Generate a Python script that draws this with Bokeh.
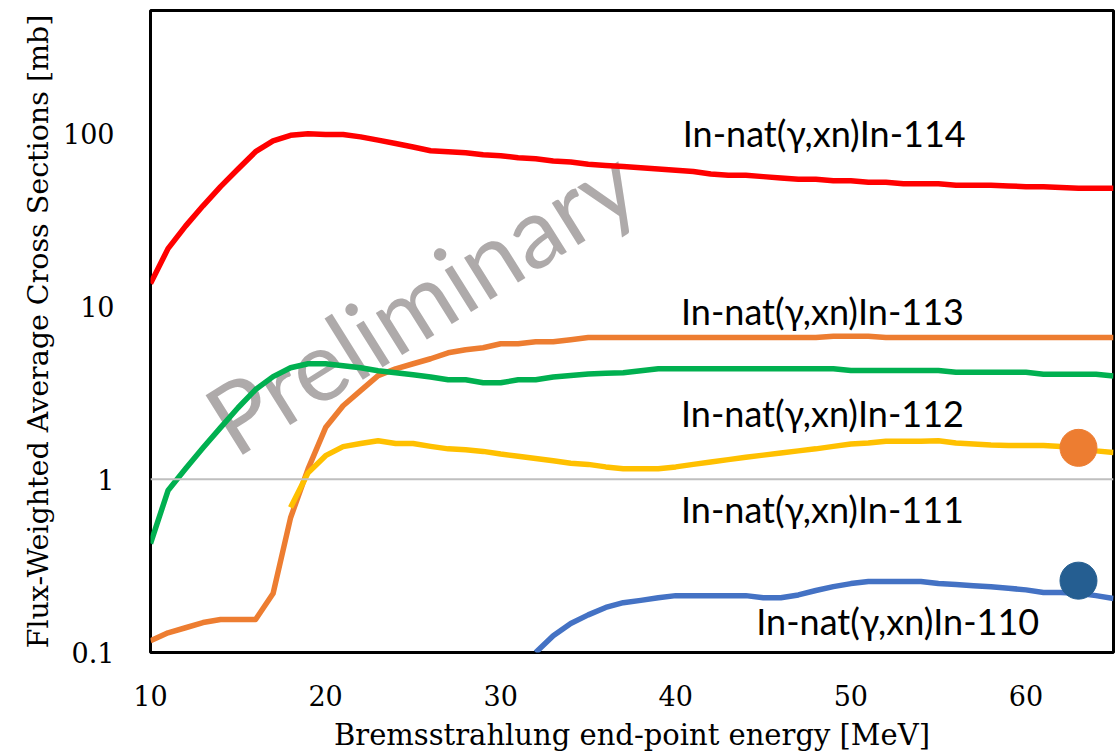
from bokeh.plotting import figure
from bokeh.models import Range1d, FixedTicker, Span
from bokeh.core.properties import value
from bokeh.embed import file_html
from bokeh.resources import INLINE

# ---------------- data ----------------
energy = list(range(10, 66))  # MeV

in114 = [13.5, 21.5, 29, 38, 49, 62, 78, 90, 97, 99,
         98, 98, 95, 91, 87, 83, 79, 78, 77, 75,
         74, 72, 71, 69, 68, 66, 65, 64, 63, 62,
         61, 60, 58, 57, 57, 56, 55, 54, 54, 53,
         53, 52, 52, 51, 51, 51, 50, 50, 50, 49.5,
         49, 49, 48.5, 48, 48, 48]

in113 = [0.117, 0.130, 0.139, 0.149, 0.155, 0.155, 0.155, 0.219, 0.60, 1.15,
         1.99, 2.66, 3.25, 3.97, 4.35, 4.65, 4.97, 5.38, 5.6, 5.75,
         6.07, 6.07, 6.23, 6.23, 6.4, 6.6, 6.6, 6.6, 6.6, 6.6,
         6.6, 6.6, 6.6, 6.6, 6.6, 6.6, 6.6, 6.6, 6.6, 6.7,
         6.7, 6.7, 6.6, 6.6, 6.6, 6.6, 6.6, 6.6, 6.6, 6.6,
         6.6, 6.6, 6.6, 6.6, 6.6, 6.6]

in112 = [0.426, 0.861, 1.15, 1.52, 1.99, 2.59, 3.3, 3.92, 4.41, 4.65,
         4.65, 4.53, 4.41, 4.24, 4.13, 4.02, 3.9, 3.76, 3.76, 3.61,
         3.61, 3.76, 3.76, 3.9, 3.98, 4.06, 4.1, 4.13, 4.24, 4.35,
         4.35, 4.35, 4.35, 4.35, 4.35, 4.35, 4.35, 4.35, 4.35, 4.35,
         4.25, 4.25, 4.25, 4.25, 4.25, 4.25, 4.15, 4.15, 4.15, 4.15,
         4.15, 4.05, 4.05, 4.05, 4.05, 3.95]

energy_111 = list(range(18, 66))
in111 = [0.687, 1.09, 1.37, 1.545, 1.61, 1.67, 1.61, 1.61, 1.55, 1.5,
         1.48, 1.45, 1.4, 1.36, 1.32, 1.28, 1.24, 1.22, 1.18, 1.15,
         1.15, 1.15, 1.18, 1.22, 1.26, 1.3, 1.34, 1.38, 1.42, 1.46,
         1.5, 1.55, 1.6, 1.62, 1.66, 1.66, 1.66, 1.67, 1.62, 1.6,
         1.58, 1.57, 1.57, 1.57, 1.55, 1.5, 1.46, 1.43]

energy_110 = list(range(32, 66))
in110 = [0.1, 0.125, 0.147, 0.165, 0.182, 0.194, 0.2, 0.207, 0.213, 0.213,
         0.213, 0.213, 0.213, 0.207, 0.207, 0.215, 0.228, 0.24, 0.25, 0.257,
         0.257, 0.257, 0.257, 0.25, 0.247, 0.243, 0.24, 0.235, 0.23, 0.222,
         0.222, 0.22, 0.213, 0.205]

point_energy = [63]
point_upper = [1.52]
point_lower = [0.26]

series_labels = ["In-nat(\u03b3,xn)In-114", "In-nat(\u03b3,xn)In-113",
                 "In-nat(\u03b3,xn)In-112", "In-nat(\u03b3,xn)In-111",
                 "In-nat(\u03b3,xn)In-110"]

x_ticks = [10, 20, 30, 40, 50, 60]
x_tick_labels = ["10", "20", "30", "40", "50", "60"]
y_ticks = [0.1, 1, 10, 100]
y_tick_labels = ["0.1", "1", "10", "100"]

x_title = "Bremsstrahlung end-point energy [MeV]"
y_title = "Flux-Weighted Average Cross Sections [mb]"
watermark = "Preliminary"

# ---------------- figure ----------------
p = figure(width=1115, height=755, x_range=Range1d(10, 65), y_range=Range1d(0.1, 510),
           y_axis_type="log", output_backend="svg", toolbar_location=None,
           min_border_left=150, min_border_right=2, min_border_top=10, min_border_bottom=103)
p.background_fill_color = "white"
p.border_fill_color = "white"
p.outline_line_color = "black"
p.outline_line_width = 3
p.xgrid.visible = False
p.ygrid.visible = False

serif = "DejaVu Serif"
for ax in (p.xaxis[0], p.yaxis[0]):
    ax.axis_line_color = None
    ax.major_tick_line_color = None
    ax.minor_tick_line_color = None
    ax.major_label_text_font = serif
    ax.major_label_text_font_size = "27px"
    ax.major_label_text_color = "black"
    ax.axis_label_text_font = serif
    ax.axis_label_text_font_style = "normal"
    ax.axis_label_text_color = "black"

p.xaxis.ticker = FixedTicker(ticks=x_ticks)
p.xaxis.major_label_overrides = {t: l for t, l in zip(x_ticks, x_tick_labels)}
p.xaxis.major_label_standoff = 26
p.xaxis.axis_label = x_title
p.xaxis.axis_label_text_font_size = "29px"
p.xaxis.axis_label_standoff = 9

p.yaxis.ticker = FixedTicker(ticks=y_ticks, minor_ticks=[])
p.yaxis.major_label_overrides = {t: l for t, l in zip(y_ticks, y_tick_labels)}
p.yaxis.major_label_standoff = 30
p.yaxis.axis_label = y_title
p.yaxis.axis_label_text_font_size = "28.5px"
p.yaxis.axis_label_standoff = 5

p.add_layout(Span(location=1, dimension="width", line_color="#BFBFBF", line_width=2))

# watermark (under the lines)
p.text(x=[25.4], y=[11.0], text=[watermark], angle=32, angle_units="deg",
       text_font=value("Lato"), text_font_size="98px", text_color="#AEAAAA",
       text_align="center", text_baseline="middle")

lw = 5.5
p.line(energy, in114, line_color="#FF0000", line_width=lw, line_join="round")
p.line(energy, in113, line_color="#ED7D31", line_width=lw, line_join="round")
p.line(energy, in112, line_color="#00B050", line_width=lw, line_join="round")
p.line(energy_111, in111, line_color="#FFC000", line_width=lw, line_join="round")
p.line(energy_110, in110, line_color="#4472C4", line_width=lw, line_join="round")

p.scatter(point_energy, point_upper, size=37, color="#ED7D31")
p.scatter(point_energy, point_lower, size=37, color="#255E91")

label_x = [40.4, 40.3, 40.3, 40.3, 44.6]
label_y = [100, 9.4, 2.43, 0.678, 0.153]
p.text(x=label_x, y=label_y, text=series_labels, text_font=value("Lato"),
       text_font_size="36px", text_color="black", text_align="left",
       text_baseline="middle")

open("out.html", "w").write(file_html(p, INLINE))
